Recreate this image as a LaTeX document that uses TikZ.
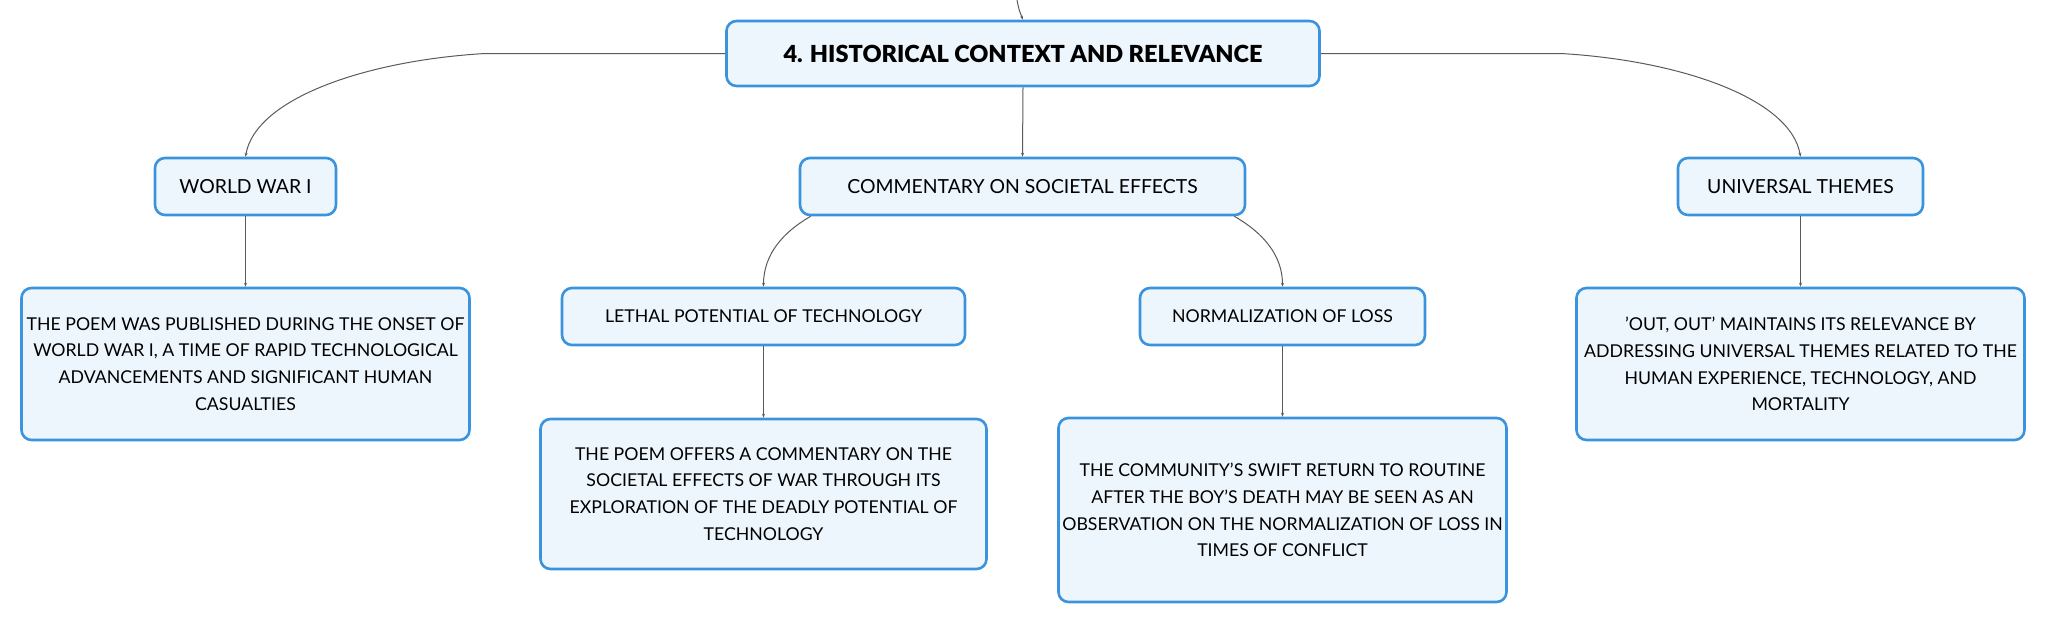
\documentclass[tikz,border=0pt]{standalone}
\usepackage{fontspec}
\setmainfont{Lato}[BoldFont={Lato Black}]
\usetikzlibrary{arrows.meta}
\definecolor{boxblue}{HTML}{3B93DD}
\definecolor{boxfill}{HTML}{EEF6FD}
\definecolor{linkgrey}{HTML}{5A5A5A}
\begin{document}
\begin{tikzpicture}[x=1pt, y=-1pt,
	topic/.style={draw=boxblue, fill=boxfill, line width=2.6pt, rounded corners=10pt,
		align=center, inner sep=0pt, font=\fontsize{17.7}{26.7}\selectfont},
	subtopic/.style={topic, font=\fontsize{19.4}{24}\selectfont},
	rootbox/.style={topic, font=\fontsize{23.5}{28}\selectfont\bfseries},
	link/.style={draw=linkgrey, line width=1pt, -{Stealth[length=4pt,width=3pt]}}]
			
			\useasboundingbox (0,0) rectangle (2046,624);
			
			% main topic
			\node[rootbox, minimum width=593, minimum height=65] (root) at (1023,53.5) {4. HISTORICAL CONTEXT AND RELEVANCE};
			\coordinate (up) at (1017,0);
			
			% second row
			\node[subtopic, minimum width=181, minimum height=57] (wwi) at (245.5,186.5) {WORLD WAR I};
			\node[subtopic, minimum width=445, minimum height=57] (comm) at (1022.5,186.5) {COMMENTARY ON SOCIETAL EFFECTS};
			\node[subtopic, minimum width=245, minimum height=57] (univ) at (1800.5,186.5) {UNIVERSAL THEMES};
			
			% third row
			\node[topic, minimum width=448, minimum height=152] (wwitxt) at (245.5,364) {THE POEM WAS PUBLISHED DURING THE ONSET OF\\WORLD WAR I, A TIME OF RAPID TECHNOLOGICAL\\ADVANCEMENTS AND SIGNIFICANT HUMAN\\CASUALTIES};
			\node[topic, minimum width=403, minimum height=57] (lethal) at (763.5,316.5) {LETHAL POTENTIAL OF TECHNOLOGY};
			\node[topic, minimum width=285, minimum height=57] (norm) at (1282.5,316.5) {NORMALIZATION OF LOSS};
			\node[topic, minimum width=448, minimum height=152] (univtxt) at (1800.5,364) {'OUT, OUT' MAINTAINS ITS RELEVANCE BY\\ADDRESSING UNIVERSAL THEMES RELATED TO THE\\HUMAN EXPERIENCE, TECHNOLOGY, AND\\MORTALITY};
			
			% fourth row
			\node[topic, minimum width=446, minimum height=150] (lethaltxt) at (763.5,494) {THE POEM OFFERS A COMMENTARY ON THE\\SOCIETAL EFFECTS OF WAR THROUGH ITS\\EXPLORATION OF THE DEADLY POTENTIAL OF\\TECHNOLOGY};
			\node[topic, minimum width=448, minimum height=184] (normtxt) at (1282.5,510) {THE COMMUNITY'S SWIFT RETURN TO ROUTINE\\AFTER THE BOY'S DEATH MAY BE SEEN AS AN\\OBSERVATION ON THE NORMALIZATION OF LOSS IN\\TIMES OF CONFLICT};
			
			% connectors
			\draw[link] (up) .. controls (1019,10) .. (root.north);
			\draw[link] (root.south) -- (comm.north);
			\draw[link] (root.west) -- ++(-240,0) .. controls +(-120,7) and +(10,-58) .. (wwi.north);
			\draw[link] (root.east) -- ++(240,0) .. controls +(120,7) and +(-10,-58) .. (univ.north);
			\draw[link] ([xshift=12pt]comm.south west) .. controls +(-28,16) and +(0,-32) .. (lethal.north);
			\draw[link] ([xshift=-12pt]comm.south east) .. controls +(28,16) and +(0,-32) .. (norm.north);
			\draw[link] (wwi.south) -- (wwitxt.north);
			\draw[link] (univ.south) -- (univtxt.north);
			\draw[link] (lethal.south) -- (lethaltxt.north);
			\draw[link] (norm.south) -- (normtxt.north);
			
\end{tikzpicture}
\end{document}
